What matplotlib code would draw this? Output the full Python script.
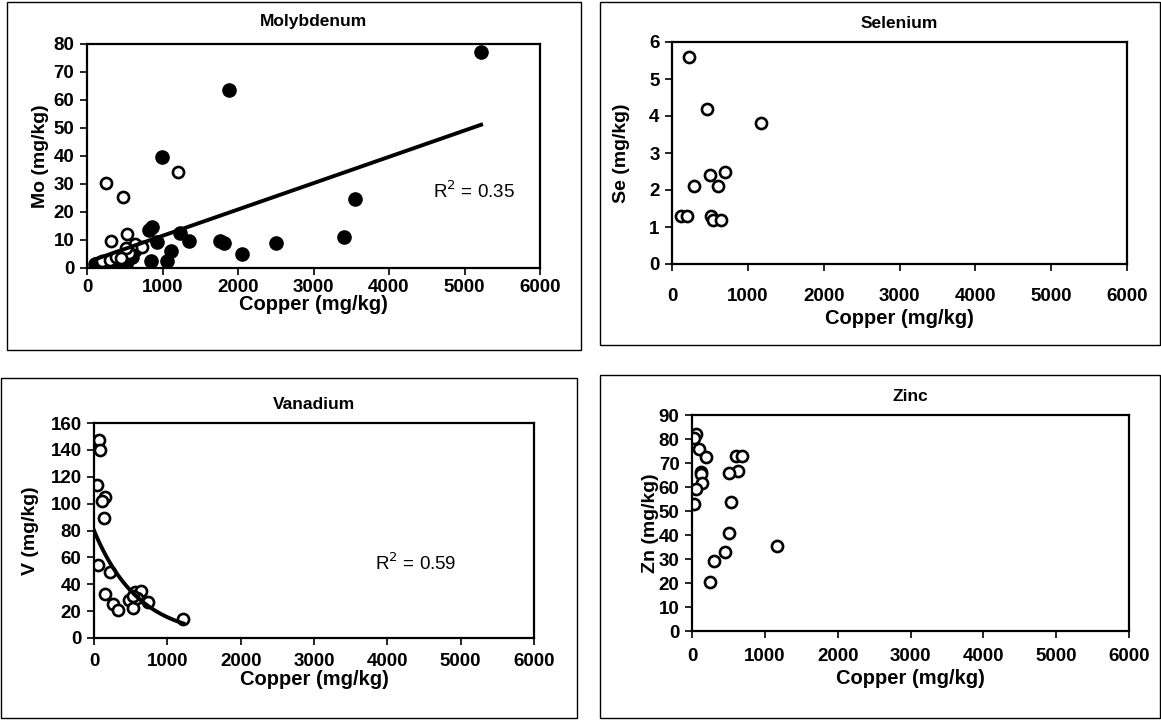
import numpy as np
import matplotlib
matplotlib.use("Agg")
import matplotlib.pyplot as plt
from matplotlib.patches import Rectangle

plt.rcParams['font.family'] = ['Liberation Sans', 'DejaVu Sans']

# Molybdenum vs copper (two sample groups) with linear trend
mo_cu_filled = [100, 5220, 1885, 993, 3554, 3404, 2499, 2053, 1762, 1815, 1351, 1232, 1108,
                1055, 848, 927, 821, 861, 548, 150, 210, 260, 330, 400, 450, 520, 600, 640]
mo_filled = [1.5, 77, 63.5, 39.5, 24.5, 11.0, 8.8, 5.0, 9.5, 8.8, 9.8, 12.4, 6.0,
             2.5, 2.6, 9.4, 13.7, 14.6, 5.2, 1.0, 1.5, 0.5, 2.0, 1.0, 3.0, 1.5, 4.0, 6.5]
mo_cu_open = [252, 1201, 473, 530, 318, 636, 724, 560, 520, 200, 300, 380, 450]
mo_open = [30.5, 34.2, 25.2, 12.0, 9.5, 8.5, 7.6, 5.2, 7.0, 2.5, 3.0, 4.0, 3.5]
mo_fit = (0.0094, 2.1)          # slope, intercept
mo_r2 = 0.35

# Selenium vs copper
se_cu = [229, 457, 1174, 699, 501, 294, 611, 114, 202, 514, 545, 642]
se = [5.6, 4.2, 3.8, 2.5, 2.4, 2.1, 2.1, 1.3, 1.3, 1.3, 1.2, 1.2]

# Vanadium vs copper with exponential trend
v_cu = [68, 77, 37, 150, 113, 136, 50, 214, 146, 263, 327, 482, 536, 559, 641, 591, 732, 1218, 530]
v = [147, 140, 114, 105, 102, 89, 54, 49, 33, 25, 21, 28, 22, 34, 35, 30, 27, 14, 31]
v_fit = (80.0, -0.00164)        # a * exp(b * x)
v_r2 = 0.59

# Zinc vs copper
zn_cu = [59, 27, 101, 188, 124, 119, 137, 55, 27, 600, 687, 628, 504, 536, 504, 458, 298, 243, 1172]
zn = [82, 80.5, 76, 72.5, 66.3, 65.3, 61.5, 59.2, 53, 73, 73, 66.7, 66, 53.6, 41, 33, 29.2, 20.5, 35.5]

W, H = 1161, 720
fig = plt.figure(figsize=(W / 100, H / 100), dpi=100)


def px_axes(left, top, right, bottom):
    return fig.add_axes([left / W, 1 - bottom / H, (right - left) / W, (bottom - top) / H])


def frame(left, top, right, bottom):
    fig.patches.append(Rectangle((left / W, 1 - bottom / H), (right - left) / W, (bottom - top) / H,
                                 transform=fig.transFigure, fill=False, lw=1.0, ec='black'))


def style(ax, title, ylabel, ymax, ystep, xpad=5, xlpad=0, ylpad=5, tpad=10):
    ax.set_xlim(0, 6000)
    ax.set_ylim(0, ymax)
    ax.set_xticks(np.arange(0, 6001, 1000))
    ax.set_yticks(np.arange(0, ymax + 0.1, ystep))
    for s in ax.spines.values():
        s.set_linewidth(1.6)
    ax.tick_params(direction='out', length=5, width=1.2, labelsize=13.5)
    ax.tick_params(axis='x', pad=xpad)
    ax.tick_params(axis='y', pad=4)
    for lbl in ax.get_xticklabels() + ax.get_yticklabels():
        lbl.set_fontweight('bold')
    ax.set_title(title, fontsize=12.5, fontweight='bold', pad=tpad)
    ax.set_xlabel('Copper (mg/kg)', fontsize=14.5, fontweight='bold', labelpad=xlpad)
    ax.set_ylabel(ylabel, fontsize=14, fontweight='bold', labelpad=ylpad)


open_kw = dict(marker='o', ms=8, mfc='white', mec='black', mew=1.9, ls='none')
fill_kw = dict(marker='o', ms=9.5, mfc='black', mec='black', ls='none')

frame(7, 2, 581, 350)
frame(600, 2, 1160, 345)
frame(1, 378, 577, 718)
frame(600, 375, 1160, 718)

# Molybdenum
ax1 = px_axes(87, 44, 540, 268)
ax1.plot(mo_cu_filled, mo_filled, **fill_kw)
ax1.plot(mo_cu_open, mo_open, **open_kw)
xs = np.linspace(min(mo_cu_filled), max(mo_cu_filled), 50)
ax1.plot(xs, mo_fit[0] * xs + mo_fit[1], color='black', lw=2.8)
ax1.text(4580, 27.5, 'R$^2$ = %.2f' % mo_r2, fontsize=13.5, va='center')
style(ax1, 'Molybdenum', 'Mo (mg/kg)', 80, 10, xpad=3, xlpad=-1, ylpad=3, tpad=13)

# Selenium
ax2 = px_axes(672, 42, 1127, 264)
ax2.plot(se_cu, se, **open_kw)
style(ax2, 'Selenium', 'Se (mg/kg)', 6, 1, xpad=12, xlpad=3, ylpad=14)

# Vanadium
ax3 = px_axes(94, 423, 534, 638)
ax3.plot(v_cu, v, **open_kw)
xs = np.linspace(0, max(v_cu), 80)
ax3.plot(xs, v_fit[0] * np.exp(v_fit[1] * xs), color='black', lw=2.8)
ax3.text(3830, 56, 'R$^2$ = %.2f' % v_r2, fontsize=13.5, va='center')
style(ax3, 'Vanadium', 'V (mg/kg)', 160, 20, xpad=6, xlpad=0, ylpad=8)

# Zinc
ax4 = px_axes(692, 415, 1129, 631)
ax4.plot(zn_cu, zn, **open_kw)
style(ax4, 'Zinc', 'Zn (mg/kg)', 90, 10, xpad=7, xlpad=3, ylpad=0)

fig.savefig('out.png', dpi=100)
